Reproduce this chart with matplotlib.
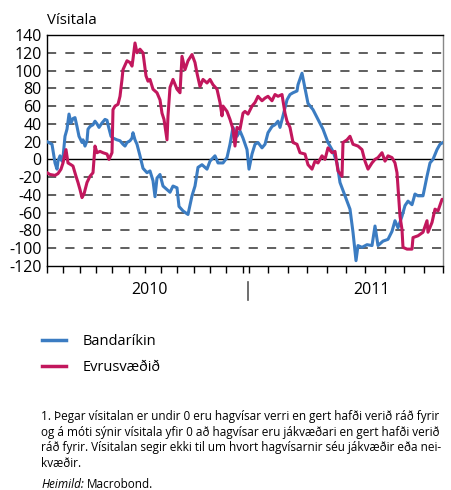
import matplotlib.pyplot as plt
import matplotlib.transforms as mtransforms

plt.rcParams['font.family'] = ['Open Sans', 'DejaVu Sans']

# Data: time index (trading-day position along the axis) and index values
t_us = [0, 5, 8, 10, 11, 13, 15, 16, 18, 20, 22, 24, 26, 28, 30, 32, 35, 36, 38, 40,
        41, 43, 46, 48, 50, 52, 55, 58, 60, 61, 64, 66, 70, 73, 76, 78, 80, 83, 85, 86,
        88, 90, 93, 96, 100, 103, 106, 108, 110, 113, 116, 120, 123, 126, 130, 132, 136,
        141, 145, 148, 151, 155, 160, 163, 168, 171, 176, 180, 183, 186, 190, 193, 196,
        200, 202, 205, 208, 211, 215, 218, 221, 225, 228, 231, 233, 236, 240, 243, 246,
        250, 251, 255, 258, 261, 266, 271, 276, 281, 286, 290, 293, 298, 303, 306, 309,
        311, 315, 320, 325, 328, 331, 336, 341, 345, 348, 351, 355, 358, 361, 365, 368,
        371, 376, 380, 383, 386, 390, 393, 396]
bandarikin = [20, 17, -4, -11, -2, 4, -2, 2, 26, 34, 51, 41, 46, 47, 37, 26, 19, 22, 15, 21,
              34, 37, 39, 43, 40, 36, 41, 45, 44, 39, 26, 24, 22, 21, 17, 15, 19, 21, 24, 30,
              22, 17, 4, -10, -15, -13, -24, -42, -21, -17, -30, -34, -37, -30, -32, -53, -58,
              -62, -41, -30, -9, -6, -11, -2, 4, -4, -4, 2, 17, 36, 26, 32, 24,
              11, -11, 6, 17, 19, 13, 17, 30, 37, 39, 43, 36, 49, 67, 73, 75,
              77, 84, 97, 80, 63, 56, 45, 34, 19, 9, -4, -26, -41, -56, -82, -114,
              -97, -99, -96, -97, -75, -97, -92, -90, -81, -69, -77, -64, -52, -47, -51, -39,
              -41, -41, -19, -4, 0, 11, 17, 19]

t_eu = [0, 3, 8, 11, 14, 16, 19, 21, 24, 26, 29, 31, 33, 35, 37, 40, 43, 46, 48, 50,
        53, 56, 60, 62, 65, 66, 68, 71, 73, 75, 76, 80, 83, 85, 86, 88, 90, 93, 96, 99,
        101, 103, 106, 110, 113, 115, 117, 120, 121, 123, 126, 130, 133, 135, 138, 141,
        145, 148, 150, 153, 156, 160, 163, 166, 170, 173, 175, 176, 180, 183, 186, 188,
        190, 193, 196, 198, 201, 205, 208, 211, 215, 218, 221, 225, 228, 231, 235, 238,
        240, 243, 246, 250, 253, 258, 261, 265, 268, 271, 275, 278, 281, 285, 288, 291,
        295, 296, 300, 303, 306, 311, 315, 318, 321, 325, 328, 331, 335, 338, 341, 345,
        348, 350, 353, 355, 356, 360, 365, 366, 371, 376, 380, 381, 385, 388, 391, 395, 396]
evrusvaedid = [-15, -17, -18, -16, -11, -4, 11, -4, -6, -7.5, -19, -26, -34, -43, -39, -26, -19, -15, 15, 7.5,
               9, 7.5, 6, 0, 7.5, 56, 60, 62, 71, 90, 101, 111, 109, 105, 113, 131, 120, 124, 120, 94,
               88, 90, 79, 75, 67, 52, 45, 22, 49, 81, 90, 79, 75, 116, 101, 111,
               118, 109, 97, 82, 90, 86, 90, 84, 79, 64, 49, 60, 54, 45, 34, 15,
               36, 34, 52, 54, 51, 60, 64, 71, 66, 69, 71, 66, 73, 71, 73, 52,
               43, 36, 19, 17, 7.5, 6, -6, -11, -2, -4, 4, 0, 13, 7.5, 9, -13,
               -19, 19, 22, 26, 17, 15, 11, -2, -11, -4, 0, 2, 7.5, -2, 4, 2,
               -4, -15, -64, -79, -99, -101, -101, -88, -86, -82, -69, -82, -71, -56, -58, -45, -45]

# Month boundaries along the time index (2010 and 2011 are on different scales)
ticks_2010 = [0, 16.3, 32.6, 48.9, 65.2, 81.5, 97.8, 114.1, 130.4, 146.7, 163, 179.3, 195.6]
ticks_2011 = [202, 221.4, 240.8, 260.2, 279.6, 299, 318.4, 337.8, 357.2, 376.6, 396]
year_labels = ["2010", "2011"]
year_centres = [103, 325]
year_split = 201

yticks = list(range(-120, 141, 20))

blue = "#3b7cc2"
magenta = "#c2175d"

fig = plt.figure(figsize=(4.51, 4.90), dpi=100)
ax = fig.add_axes([47 / 451, 224 / 490, 396 / 451, 231 / 490])

for v in yticks[1:-1]:
    if v == 0:
        ax.axhline(0, color="black", lw=1.0, zorder=1)
    else:
        ax.axhline(v, color="#444444", lw=1.2, dashes=(5.5, 5.5), zorder=1)

ax.plot(t_us, bandarikin, color=blue, lw=2.2, label="Bandaríkin", zorder=3,
        solid_joinstyle="round")
ax.plot(t_eu, evrusvaedid, color=magenta, lw=2.2, label="Evrusvæðið", zorder=3,
        solid_joinstyle="round")

ax.set_xlim(0, 396)
ax.set_ylim(-120, 140)
ax.set_yticks(yticks)
ax.set_yticklabels([str(v) for v in yticks], fontsize=11.5)
ax.set_xticks(ticks_2010 + ticks_2011)
ax.set_xticklabels([])
ax.tick_params(axis="x", direction="out", length=5, width=1, color="black")
ax.tick_params(axis="y", length=0, pad=4)

for side in ["left", "top", "bottom"]:
    ax.spines[side].set_color("black")
    ax.spines[side].set_linewidth(1.0)
ax.spines["right"].set_color("#888888")
ax.spines["right"].set_linewidth(1.0)

trans = mtransforms.blended_transform_factory(ax.transData, ax.transAxes)
for lab, xc in zip(year_labels, year_centres):
    ax.text(xc, -0.105, lab, transform=trans, ha="center", va="center", fontsize=11.5)
ax.plot([year_split, year_split], [-0.068, -0.148], transform=trans, color="#555555",
        lw=1.2, clip_on=False)

fig.text(47 / 451, 1 - 20 / 490, "Vísitala", ha="left", va="center", fontsize=10.8)

leg = fig.legend(loc="upper left", bbox_to_anchor=(29 / 451, 1 - 321 / 490), frameon=False,
                 fontsize=10.5, handlelength=1.65, handletextpad=1.15, labelspacing=0.72)
for line in leg.get_lines():
    line.set_linewidth(2.5)

note = ("1. Þegar vísitalan er undir 0 eru hagvísar verri en gert hafði verið ráð fyrir\n"
        "og á móti sýnir vísitala yfir 0 að hagvísar eru jákvæðari en gert hafði verið\n"
        "ráð fyrir. Vísitalan segir ekki til um hvort hagvísarnir séu jákvæðir eða nei-\n"
        "kvæðir.")
fig.text(41 / 451, 1 - 410 / 490, note, ha="left", va="top", fontsize=8.5, linespacing=1.27)

src = fig.text(41 / 451, 1 - 484 / 490, "Heimild:", ha="left", va="center", fontsize=8.5,
               style="italic")
fig.canvas.draw()
bb = src.get_window_extent(fig.canvas.get_renderer())
fig.text(bb.x1 / fig.bbox.width + 3 / 451, 1 - 484 / 490, "Macrobond.", ha="left",
         va="center", fontsize=8.5)

fig.savefig("out.png", dpi=100)
